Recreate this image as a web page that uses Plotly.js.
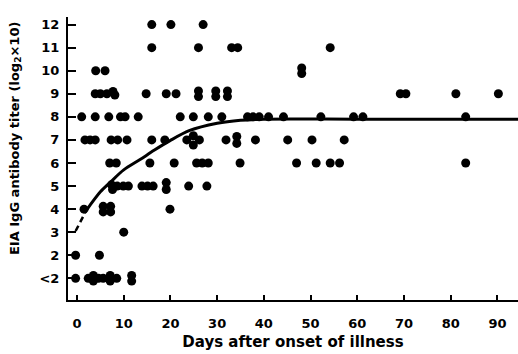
<!DOCTYPE html>
<html>
<head>
<meta charset="utf-8">
<script src="https://cdn.plot.ly/plotly-3.0.1.min.js"></script>
<style>html,body{margin:0;padding:0;background:#fff;}#chart{width:518px;height:354px;}</style>
</head>
<body>
<div id="chart"></div>
<script>
// Observed points: days after onset and EIA IgG titer (log2 x 10); value 1 = "<2"
const pointDays = [
  16.0, 20.1, 27.0,
  16.0, 26.0, 33.1, 34.4, 54.2,
  4.0, 6.0, 48.1, 48.1,
  3.9, 5.0, 6.4, 7.7, 8.1, 14.8, 19.1, 21.2, 26.0, 26.0, 29.7, 29.7, 32.2, 32.2, 69.2, 70.4, 81.1, 90.2,
  1.0, 3.9, 6.8, 9.3, 10.3, 13.1, 22.1, 24.9, 28.1, 31.0, 36.5, 37.7, 39.0, 41.0, 44.2, 52.2, 59.2, 61.2, 83.2,
  1.7, 2.8, 3.9, 7.3, 8.7, 10.7, 16.0, 18.8, 23.5, 24.9, 24.9, 26.2, 31.9, 34.2, 34.2, 38.2, 45.1, 50.3, 57.2,
  7.0, 8.4, 15.6, 20.8, 25.6, 26.8, 28.1, 34.9, 47.0, 51.2, 54.2, 56.2, 83.2,
  7.4, 7.6, 8.6, 9.9, 11.0, 13.9, 15.1, 16.3, 19.1, 19.1, 23.9, 27.8,
  1.5, 5.6, 5.6, 7.2, 7.2, 19.9,
  10.0,
  -0.3, 4.8,
  -0.3, 2.4, 3.5, 3.5, 4.6, 5.6, 7.1, 7.1, 8.5, 11.7, 11.7
];
const pointTiters = [
  12, 12, 12,
  11, 11, 11, 11, 11,
  10, 10, 10.12, 9.88,
  9, 9, 9, 9.1, 8.95, 9, 9, 9, 9.12, 8.88, 9.12, 8.88, 9.12, 8.88, 9, 9, 9, 9,
  8, 8, 8, 8, 8, 8, 8, 8, 8, 8, 8, 8, 8, 8, 8, 8, 8, 8, 8,
  7, 7, 7, 7, 7, 7, 7, 7, 7, 7.18, 6.78, 7, 7, 7.15, 6.85, 7, 7, 7, 7,
  6, 6, 6, 6, 6, 6, 6, 6, 6, 6, 6, 6, 6,
  5.05, 4.85, 5, 5, 5, 5, 5, 5, 5.15, 4.85, 5, 5,
  4, 4.12, 3.88, 4.12, 3.88, 4,
  3,
  2, 2,
  1, 1, 1.12, 0.88, 1, 1, 1.12, 0.88, 1, 1.12, 0.88
];
// Fitted curve (dashed near onset, then solid)
const dashDays = [-0.3, 2.0];
const dashTiters = [3.05, 3.95];
const curveDays = [2.0, 5.0, 7.3, 10.0, 13.5, 16.5, 20.0, 24.0, 30.0, 35.0, 40.0, 60.0, 95.0];
const curveTiters = [3.95, 4.75, 5.2, 5.7, 6.15, 6.55, 6.98, 7.4, 7.72, 7.85, 7.9, 7.9, 7.9];
// Axis ticks
const xTicks = [0, 10, 20, 30, 40, 50, 60, 70, 80, 90];
const yTickVals = [1, 2, 3, 4, 5, 6, 7, 8, 9, 10, 11, 12];
const yTickText = ['<2', '2', '3', '4', '5', '6', '7', '8', '9', '10', '11', '12'];

const FONT = 'DejaVu Sans, sans-serif';
const traces = [
  {x: dashDays, y: dashTiters, mode: 'lines', line: {color: '#000', width: 2.5, dash: '6px,4px'}, hoverinfo: 'skip'},
  {x: curveDays, y: curveTiters, mode: 'lines', line: {color: '#000', width: 3, shape: 'spline', smoothing: 0.8}, hoverinfo: 'skip'},
  {x: pointDays, y: pointTiters, mode: 'markers', marker: {color: '#000', size: 9}}
];
const layout = {
  width: 518, height: 354,
  margin: {l: 68, r: 0, t: 17, b: 54},
  paper_bgcolor: '#fff', plot_bgcolor: '#fff',
  showlegend: false,
  font: {family: FONT, color: '#000', size: 14},
  xaxis: {
    range: [-1.93, 94.4], tickvals: xTicks, ticktext: xTicks.map(String),
    ticks: 'inside', ticklen: 5, tickwidth: 2, tickcolor: '#000',
    showline: true, linecolor: '#000', linewidth: 2, showgrid: false, zeroline: false,
    ticklabelstandoff: 10,
    tickfont: {family: FONT, size: 13, color: '#000', weight: 'bold'},
    title: {text: 'Days after onset of illness', font: {family: FONT, size: 15, color: '#000', weight: 'bold'}, standoff: 7}
  },
  yaxis: {
    range: [0.06, 12.33], tickvals: yTickVals, ticktext: yTickText,
    ticks: 'inside', ticklen: 8, tickwidth: 2, tickcolor: '#000',
    showline: true, linecolor: '#000', linewidth: 2, showgrid: false, zeroline: false,
    ticklabelstandoff: 4,
    tickfont: {family: FONT, size: 13, color: '#000', weight: 'bold'}
  },
  annotations: [{
    text: 'EIA IgG antibody titer (log<sub>2</sub>×10)', textangle: -90,
    xref: 'paper', yref: 'paper', x: -0.118, y: 0.572, xanchor: 'center', yanchor: 'middle',
    showarrow: false, font: {family: FONT, size: 13, color: '#000', weight: 'bold'}
  }]
};
Plotly.newPlot('chart', traces, layout, {displayModeBar: false, staticPlot: true});
</script>
</body>
</html>
